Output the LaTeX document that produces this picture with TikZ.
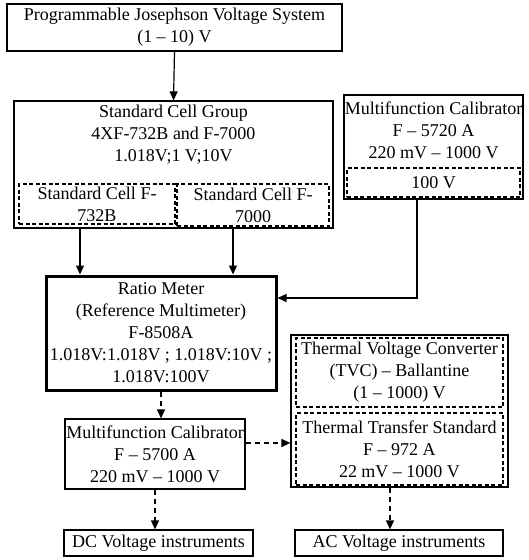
\documentclass[tikz,border=0pt]{standalone}
\usepackage{fontspec}
\setmainfont{Liberation Serif}
\usetikzlibrary{arrows.meta,calc}

\begin{document}
\begin{tikzpicture}[
  x=1pt, y=-1pt,
  font=\fontsize{18}{22}\selectfont,
  box/.style={draw, line width=1.2pt, align=center, inner sep=0pt},
  sub/.style={box, dash pattern=on 4pt off 2.5pt, line width=1.1pt},
  heavy/.style={box, line width=3pt},
  txt/.style={align=center, inner sep=0pt},
  flow/.style={-{Triangle[length=9pt,width=8pt]}, line width=1.2pt},
  dflow/.style={flow, dash pattern=on 5pt off 4pt}
]
\useasboundingbox (0,0) rectangle (529,560);
% Top: Josephson system and standard cells
\node[box, minimum width=335pt, minimum height=47pt] (pjvs) at (174.5,27.5) {Programmable Josephson Voltage System\\(1 – 10) V};
\node[box, minimum width=319pt, minimum height=127pt] (scg) at (173.5,164.5) {};
\node[txt] (scgtxt) at (173.5,135) {Standard Cell Group\\4XF-732B and F-7000\\1.018V;1 V;10V};
\node[sub, minimum width=156pt, minimum height=40pt] (cella) at (97,204) {Standard Cell F-\\732B};
\node[sub, minimum width=152pt, minimum height=42pt] (cellb) at (253,205) {Standard Cell F-\\7000};
% Right: 5720 A calibrator
\node[box, minimum width=179pt, minimum height=104pt] (mca) at (433.5,147) {};
\node[txt] (mcatxt) at (433.5,130) {Multifunction Calibrator\\F – 5720 A\\220 mV – 1000 V};
\node[sub, minimum width=173pt, minimum height=29pt] (mcb) at (433.5,182.5) {100 V};
% Middle: ratio meter
\node[heavy, minimum width=230pt, minimum height=114pt] (ratio) at (161,333) {Ratio Meter\\(Reference Multimeter)\\F-8508A\\1.018V:1.018V ; 1.018V:10V ;\\1.018V:100V};
% AC transfer standards
\node[box, minimum width=217pt, minimum height=152pt] (tvcbox) at (399.5,411) {};
\node[sub, minimum width=207pt, minimum height=69pt] (tvc) at (399.5,372.5) {Thermal Voltage Converter\\(TVC) – Ballantine\\(1 – 1000) V};
\node[sub, minimum width=207pt, minimum height=72pt] (tts) at (399.5,449) {Thermal Transfer Standard\\F – 972 A\\22 mV – 1000 V};
% Bottom: 5700 A calibrator and instruments
\node[box, minimum width=180pt, minimum height=70pt] (mcc) at (155,454) {Multifunction Calibrator\\F – 5700 A\\220 mV – 1000 V};
\node[box, minimum width=189pt, minimum height=26pt] (dc) at (158.5,543) {DC Voltage instruments};
\node[box, minimum width=208pt, minimum height=26pt] (ac) at (399,543) {AC Voltage instruments};
% Edges
\coordinate (ta) at ([xshift=-17pt]cella.south);
\coordinate (tb) at ([xshift=-20pt]cellb.south);
\coordinate (mcx) at ([xshift=-16.5pt]mca.south);
\coordinate (mce) at ([yshift=11pt]mcc.east);
\coordinate (tvs) at ([xshift=-9.5pt]tvcbox.south);
\draw[flow] (pjvs.south) -- (scg.north);
\draw[flow] (ta |- scg.south) -- (ta |- ratio.north);
\draw[flow] (tb |- scg.south) -- (tb |- ratio.north);
\draw[flow] (mcx) |- ([yshift=35pt]ratio.east);
\draw[dflow] (ratio.south) -- (ratio.south |- mcc.north);
\draw[dflow] (mce) -- (mce -| tvcbox.west);
\draw[dflow] (mcc.south) -- (mcc.south |- dc.north);
\draw[dflow] (tvs) -- (tvs |- ac.north);
\end{tikzpicture}
\end{document}
